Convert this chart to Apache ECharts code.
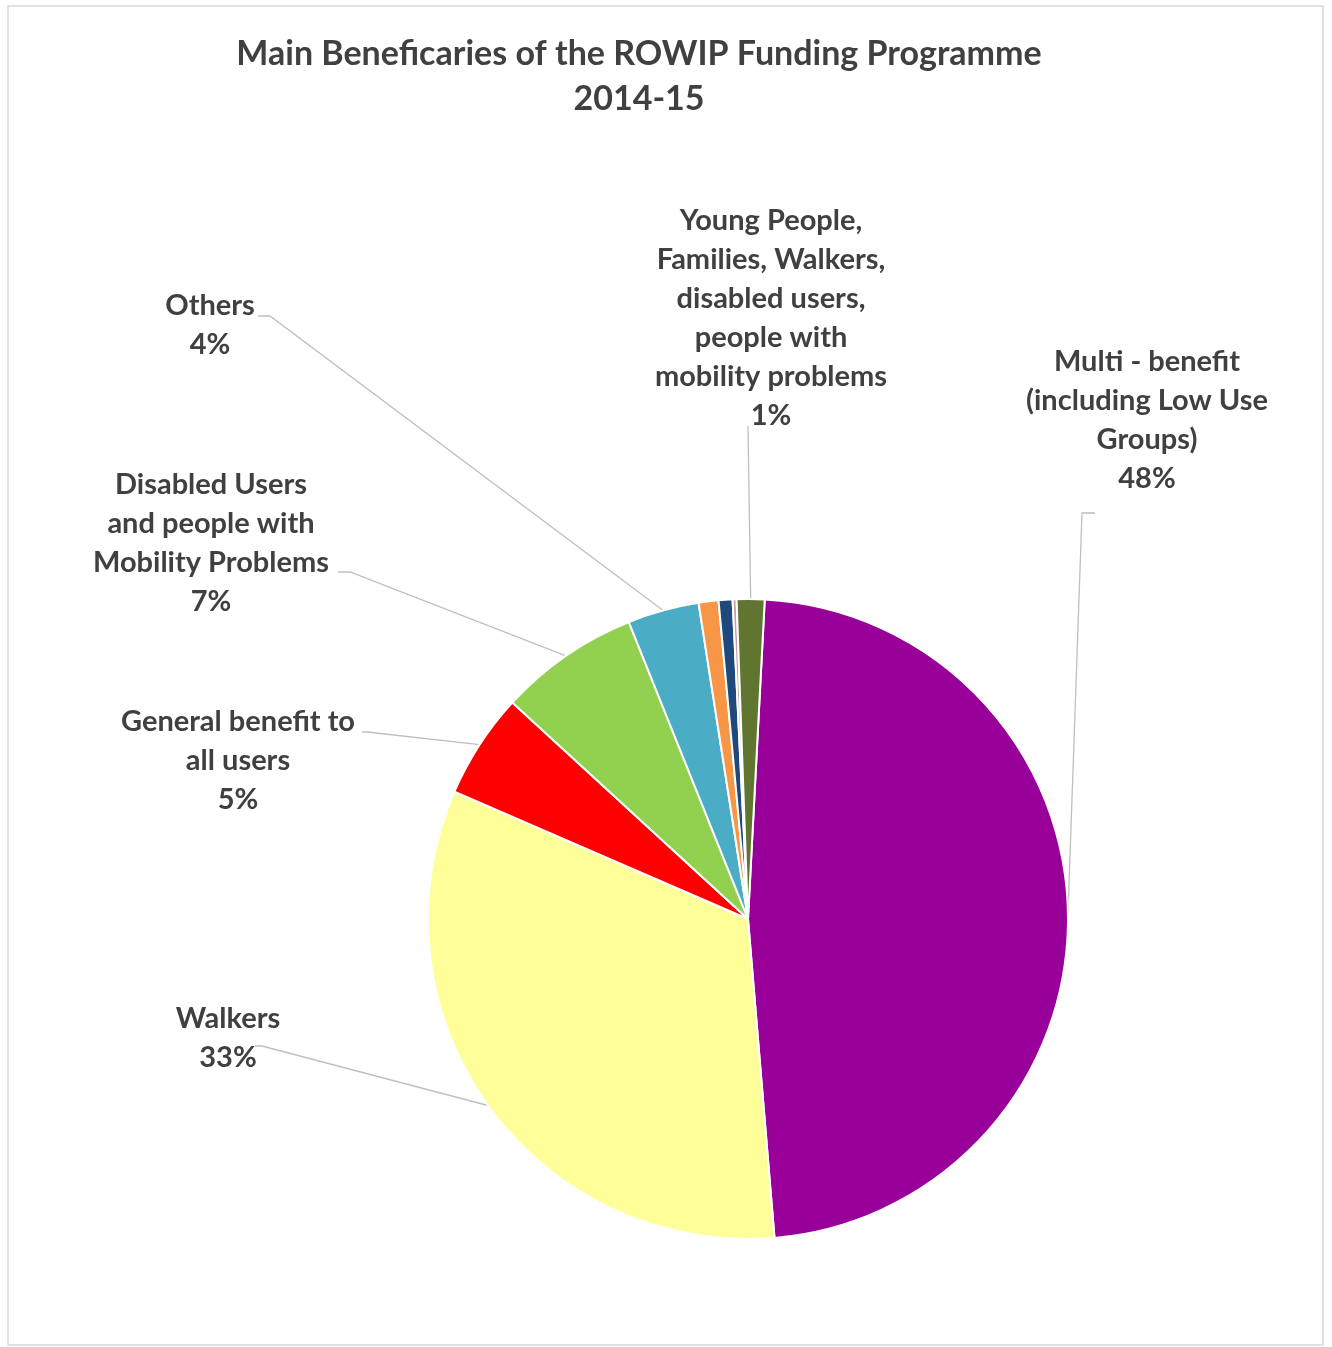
<!DOCTYPE html>
<html>
<head>
<meta charset="utf-8">
<script src="https://cdn.jsdelivr.net/npm/echarts@6/dist/echarts.min.js"></script>
<style>html,body{margin:0;padding:0;background:#fff;}#chart{width:1332px;height:1347px;}</style>
</head>
<body>
<div id="chart"></div>
<script>
// ---- data ----
var categories = [
  'Multi - benefit\n(including Low Use\nGroups)',
  'Walkers',
  'General benefit to\nall users',
  'Disabled Users\nand people with\nMobility Problems',
  'Others',
  'Other group A',
  'Other group B',
  'Other group C',
  'Young People,\nFamilies, Walkers,\ndisabled users,\npeople with\nmobility problems'
];
var values = [47.8, 32.8, 5.3, 7.1, 3.6, 1.0, 0.7, 0.2, 1.4];
var showLabel = [true, true, true, true, true, false, false, false, true];
var colors = ['#990099', '#FFFF99', '#FF0000', '#92D050', '#4BACC6', '#F79646', '#1F497D', '#C9A0A0', '#5F7530'];
var titleText = 'Main Beneficaries of the ROWIP Funding Programme\n2014-15';

// ---- label layout (positions of text blocks and leader elbows) ----
var labelPos = {
  0: {x: 1147, y: 420, line: [[1082, 513], [1095, 513]]},
  1: {x: 228, y: 1038, line: [[262, 1046], [255, 1046]]},
  2: {x: 238, y: 761, line: [[367, 732], [362, 732]]},
  3: {x: 211, y: 543, line: [[350, 572], [338, 572]]},
  4: {x: 210, y: 325, line: [[270, 316], [258, 316]]},
  8: {x: 771, y: 318, line: [[748, 426], [748, 426]]}
};

var data = categories.map(function (c, i) {
  return {
    name: c,
    value: values[i],
    itemStyle: {color: colors[i]},
    label: {show: showLabel[i]},
    labelLine: {show: showLabel[i]}
  };
});

var chart = echarts.init(document.getElementById('chart'));
chart.setOption({
  animation: false,
  graphic: [{
    type: 'rect',
    shape: {x: 8, y: 6, width: 1315, height: 1339},
    style: {fill: 'none', stroke: '#d9d9d9', lineWidth: 1.5},
    silent: true
  }],
  title: {
    text: titleText,
    left: 634,
    top: 27,
    textAlign: 'center',
    textStyle: {
      fontFamily: 'Lato',
      fontWeight: 'bold',
      fontSize: 34,
      lineHeight: 45,
      color: '#404040'
    }
  },
  series: [{
    type: 'pie',
    center: [748, 919],
    radius: [0, 320],
    startAngle: 87,
    clockwise: true,
    percentPrecision: 0,
    avoidLabelOverlap: false,
    itemStyle: {borderColor: '#ffffff', borderWidth: 2},
    label: {
      position: 'outside',
      formatter: '{b}\n{d}%',
      fontFamily: 'Lato',
      fontWeight: 'bold',
      fontSize: 29,
      lineHeight: 39,
      color: '#404040',
      align: 'center'
    },
    labelLine: {
      show: true,
      length: 20,
      length2: 20,
      lineStyle: {color: '#bfbfbf', width: 1.3}
    },
    labelLayout: function (params) {
      var p = labelPos[params.dataIndex];
      if (!p || !params.labelLinePoints) return {};
      var start = params.labelLinePoints[0];
      return {
        x: p.x,
        y: p.y,
        align: 'center',
        verticalAlign: 'middle',
        labelLinePoints: [start, p.line[0], p.line[1]]
      };
    },
    data: data
  }]
});
</script>
</body>
</html>
